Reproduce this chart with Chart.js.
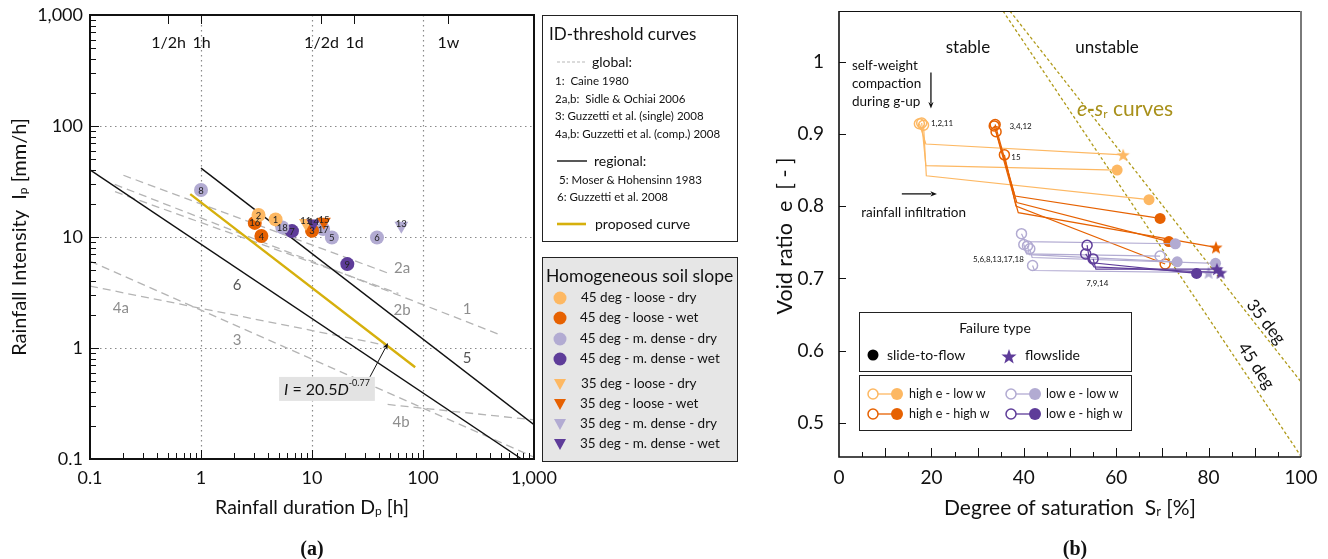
<!DOCTYPE html>
<html>
<head>
<meta charset="utf-8">
<title>Rainfall thresholds and void ratio paths</title>
<script src="https://cdn.jsdelivr.net/npm/chart.js@4.4.1/dist/chart.umd.min.js"></script>
<style>
  html,body{margin:0;padding:0;background:#fff;}
  body{width:1328px;height:559px;position:relative;overflow:hidden;font-family:Lato,"Open Sans",sans-serif;color:#111;}
  canvas{position:absolute;top:0;}
  #chartA{left:0;}
  #chartB{left:760px;}
  .box{position:absolute;box-sizing:border-box;border:1px solid #222;background:#fff;}
  .t{position:absolute;white-space:nowrap;line-height:1;transform:translateY(-50%);}
  svg.sym{position:absolute;left:0;top:0;pointer-events:none;}
  .cap{position:absolute;font-family:"Liberation Serif",serif;font-weight:bold;font-size:20px;transform:translate(-50%,-50%);}
</style>
</head>
<body>
<canvas id="chartA" width="560" height="559"></canvas>
<canvas id="chartB" width="568" height="559"></canvas>

<!-- legend boxes -->
<div class="box" style="left:542px;top:15px;width:196px;height:227px;border-width:1.3px"></div>
<div class="box" style="left:542px;top:257px;width:196px;height:205px;background:#e6e6e6;"></div>
<div class="box" style="left:859px;top:312px;width:273px;height:60px;"></div>
<div class="box" style="left:859px;top:375px;width:273px;height:56px;"></div>

<svg class="sym" width="1328" height="559">
  <!-- ID-threshold legend keys -->
  <line x1="557" y1="62" x2="585" y2="62" stroke="#b8b8b8" stroke-width="1.2" stroke-dasharray="3,2"/>
  <line x1="557" y1="161" x2="587" y2="161" stroke="#111" stroke-width="1.4"/>
  <line x1="557" y1="224" x2="586" y2="224" stroke="#d6b00c" stroke-width="2.6"/>
  <!-- soil slope legend keys -->
  <circle cx="560" cy="298" r="6.5" fill="#fdb863"/>
  <circle cx="560" cy="318" r="6.5" fill="#e66101"/>
  <circle cx="560" cy="339" r="6.5" fill="#b2abd2"/>
  <circle cx="560" cy="359" r="6.5" fill="#5e3c99"/>
  <polygon points="554,379 566,379 560,390" fill="#fdb863"/>
  <polygon points="554,399 566,399 560,410" fill="#e66101"/>
  <polygon points="554,419 566,419 560,430" fill="#b2abd2"/>
  <polygon points="554,439 566,439 560,450" fill="#5e3c99"/>
  <!-- failure type keys -->
  <circle cx="873" cy="355" r="5.5" fill="#000"/>
  <polygon points="1009,349 1010.9,354.4 1016.6,354.5 1012.1,358 1013.7,363.5 1009,360.2 1004.3,363.5 1005.9,358 1001.4,354.5 1007.1,354.4" fill="#5e3c99"/>
  <!-- path keys -->
  <line x1="873" y1="394" x2="897" y2="394" stroke="#fdb863" stroke-width="1.3"/>
  <circle cx="873" cy="394" r="5" fill="#fff" stroke="#fdb863" stroke-width="1.5"/>
  <circle cx="897" cy="394" r="6" fill="#fdb863"/>
  <line x1="873" y1="414" x2="897" y2="414" stroke="#e66101" stroke-width="1.3"/>
  <circle cx="873" cy="414" r="5" fill="#fff" stroke="#e66101" stroke-width="1.5"/>
  <circle cx="897" cy="414" r="6" fill="#e66101"/>
  <line x1="1011" y1="394" x2="1035" y2="394" stroke="#b2abd2" stroke-width="1.3"/>
  <circle cx="1011" cy="394" r="5" fill="#fff" stroke="#b2abd2" stroke-width="1.5"/>
  <circle cx="1035" cy="394" r="6" fill="#b2abd2"/>
  <line x1="1011" y1="414" x2="1035" y2="414" stroke="#5e3c99" stroke-width="1.3"/>
  <circle cx="1011" cy="414" r="5" fill="#fff" stroke="#5e3c99" stroke-width="1.5"/>
  <circle cx="1035" cy="414" r="6" fill="#5e3c99"/>
</svg>

<!-- ID-threshold legend text -->
<div class="t" style="left:549px;top:33px;font-size:17px;">ID-threshold curves</div>
<div class="t" style="left:592px;top:62px;font-size:14px;">global:</div>
<div class="t" style="left:555px;top:81px;font-size:11.5px;">1:&nbsp; Caine 1980</div>
<div class="t" style="left:555px;top:99px;font-size:11.5px;">2a,b:&nbsp; Sidle &amp; Ochiai 2006</div>
<div class="t" style="left:555px;top:116px;font-size:11.5px;">3: Guzzetti et al. (single) 2008</div>
<div class="t" style="left:555px;top:134px;font-size:11.5px;">4a,b: Guzzetti et al. (comp.) 2008</div>
<div class="t" style="left:594px;top:161px;font-size:14px;">regional:</div>
<div class="t" style="left:559px;top:180px;font-size:11.5px;">5: Moser &amp; Hohensinn 1983</div>
<div class="t" style="left:557px;top:197px;font-size:11.5px;">6: Guzzetti et al. 2008</div>
<div class="t" style="left:595px;top:224px;font-size:14px;">proposed curve</div>

<!-- soil slope legend text -->
<div class="t" style="left:546px;top:276px;font-size:17.5px;">Homogeneous soil slope</div>
<div class="t" style="left:581px;top:298px;font-size:13.5px;">45 deg - loose - dry</div>
<div class="t" style="left:580px;top:318px;font-size:13.5px;">45 deg - loose - wet</div>
<div class="t" style="left:580px;top:339px;font-size:13.5px;">45 deg - m. dense - dry</div>
<div class="t" style="left:580px;top:359px;font-size:13.5px;">45 deg - m. dense - wet</div>
<div class="t" style="left:581px;top:384px;font-size:13.5px;">35 deg - loose - dry</div>
<div class="t" style="left:580px;top:404px;font-size:13.5px;">35 deg - loose - wet</div>
<div class="t" style="left:580px;top:424px;font-size:13.5px;">35 deg - m. dense - dry</div>
<div class="t" style="left:580px;top:444px;font-size:13.5px;">35 deg - m. dense - wet</div>

<!-- failure type legend text -->
<div class="t" style="left:995px;top:328px;font-size:14px;transform:translate(-50%,-50%);">Failure type</div>
<div class="t" style="left:887px;top:355px;font-size:14px;">slide-to-flow</div>
<div class="t" style="left:1025px;top:355px;font-size:14px;">flowslide</div>
<div class="t" style="left:909px;top:394px;font-size:12.5px;">high e - low w</div>
<div class="t" style="left:909px;top:414px;font-size:12.5px;">high e - high w</div>
<div class="t" style="left:1046px;top:394px;font-size:12.5px;">low e - low w</div>
<div class="t" style="left:1046px;top:414px;font-size:12.5px;">low e - high w</div>

<div class="cap" style="left:312px;top:548px;">(a)</div>
<div class="cap" style="left:1075px;top:548px;">(b)</div>

<script>
// ---------------- Panel (a): rainfall intensity vs. duration ----------------
// Flume tests: test id, rainfall duration D (h) and intensity I (mm/h)
const ids_45_loose_dry = ['1', '2'];
const D_45_loose_dry   = [4.7, 3.3];
const I_45_loose_dry   = [14.4, 15.8];
const ids_45_loose_wet = ['16', '4', '3'];
const D_45_loose_wet   = [3.05, 3.5, 10.0];
const I_45_loose_wet   = [13.4, 10.2, 11.4];
const ids_45_dense_dry = ['8', '18', '17', '5', '6'];
const D_45_dense_dry   = [1.0, 5.4, 12.6, 15.1, 38.5];
const I_45_dense_dry   = [26.5, 12.2, 11.8, 9.9, 9.9];
const ids_45_dense_wet = ['7', '9'];
const D_45_dense_wet   = [6.6, 20.8];
const I_45_dense_wet   = [11.3, 5.7];
const ids_35_loose_dry = ['11'];
const D_35_loose_dry   = [8.8];
const I_35_loose_dry   = [13.4];
const ids_35_loose_wet = ['15'];
const D_35_loose_wet   = [12.8];
const I_35_loose_wet   = [13.7];
const ids_35_dense_dry = ['13'];
const D_35_dense_dry   = [63.8];
const I_35_dense_dry   = [12.6];
const ids_35_dense_wet = ['14'];
const D_35_dense_wet   = [10.3];
const I_35_dense_wet   = [13.2];

// ID-threshold curves: end points (D in h, I in mm/h)
const caine_D    = [0.167, 500];  const caine_I    = [29.8, 1.31];
const sidleA_D   = [0.2, 52];     const sidleA_I   = [36, 4.6];
const sidleB_D   = [0.168, 60];   const sidleB_I   = [25.6, 3.1];
const guzSingle_D = [0.1, 1000];  const guzSingle_I = [6.06, 0.104];
const guzCompA_D = [0.1, 48];     const guzCompA_I = [3.61, 1.05];
const guzCompB_D = [48, 1000];    const guzCompB_I = [0.31, 0.225];
const moser_D    = [1, 1000];     const moser_I    = [41.7, 0.204];
const guzReg_D   = [0.1, 774];    const guzReg_I   = [40.2, 0.1];
// proposed threshold I = a * D^b over its plotted duration range
const proposedCoef = 20.5, proposedExp = -0.77;
const proposed_D = [0.8, 85];
const proposed_I = proposed_D.map(d => proposedCoef * Math.pow(d, proposedExp));

// axis tick text
const decadeTickText = { '-1': '0.1', '0': '1', '1': '10', '2': '100', '3': '1,000' };
const timeMarks_h = [0.5, 1, 12, 24, 168];
const timeMarkText = ['1/2h', '1h', '1/2d', '1d', '1w'];

// ---------------- Panel (b): void ratio vs. degree of saturation ----------------
// each path: initial state, after self-weight compaction, at failure
const sr_hiE_loW = [[17.4, 18.8, 61.5], [17.9, 18.8, 60.2], [18.3, 18.9, 67.1]];
const e_hiE_loW  = [[0.914, 0.886, 0.871], [0.915, 0.856, 0.850], [0.912, 0.842, 0.809]];
const fail_hiE_loW = ['flowslide', 'slide', 'slide'];
const sr_hiE_hiW = [[33.8, 38.1, 69.5], [34.0, 38.5, 71.4], [33.6, 38.8, 81.6], [35.8, 38.3, 70.6]];
const e_hiE_hiW  = [[0.913, 0.814, 0.783], [0.903, 0.805, 0.751], [0.911, 0.791, 0.743], [0.871, 0.800, 0.720]];
const fail_hiE_hiW = ['slide', 'slide', 'flowslide', 'none'];
const sr_loE_loW = [[39.5, 40.3, 72.8], [40.0, 40.6, 69.5], [40.8, 41.2, 73.2], [41.3, 41.8, 81.5], [41.9, 42.3, 80.0]];
const e_loE_loW  = [[0.762, 0.751, 0.748], [0.747, 0.734, 0.731], [0.745, 0.733, 0.723], [0.741, 0.729, 0.721], [0.718, 0.711, 0.708]];
const fail_loE_loW = ['slide', 'none', 'slide', 'slide', 'flowslide'];
const sr_loE_hiW = [[53.7, 54.3, 77.4], [53.4, 55.2, 82.6], [55.0, 55.6, 81.8]];
const e_loE_hiW  = [[0.746, 0.722, 0.707], [0.734, 0.716, 0.708], [0.727, 0.713, 0.713]];
const fail_loE_hiW = ['slide', 'flowslide', 'flowslide'];

// e–Sr instability curves
const esr35_S = [37.0, 100]; const esr35_e = [1.07, 0.557];
const esr45_S = [35.5, 100]; const esr45_e = [1.07, 0.454];

// ---------------- styling ----------------
const FONT = 'Lato, "Open Sans", sans-serif';
const C_LO = '#fdb863', C_O = '#e66101', C_LP = '#b2abd2', C_DP = '#5e3c99';
const C_GOLD = '#d6b00c', C_OLIVE = '#b09a1a', C_GREY = '#b4b4b4';

Chart.defaults.font.family = FONT;
Chart.defaults.color = '#111';

const xy = (xs, ys) => xs.map((v, i) => ({ x: v, y: ys[i] }));

function richText(ctx, parts, x, y, align) {
  ctx.textAlign = 'left';
  let w = 0;
  for (const p of parts) { ctx.font = (p.it ? 'italic ' : '') + (p.b ? 'bold ' : '') + p.s + 'px ' + FONT; p.w = ctx.measureText(p.t).width; w += p.w; }
  let cx = align === 'center' ? x - w / 2 : align === 'right' ? x - w : x;
  for (const p of parts) {
    ctx.font = (p.it ? 'italic ' : '') + (p.b ? 'bold ' : '') + p.s + 'px ' + FONT;
    ctx.fillText(p.t, cx, y + (p.dy || 0));
    cx += p.w;
  }
  return w;
}

function arrow(ctx, x1, y1, x2, y2, head) {
  const a = Math.atan2(y2 - y1, x2 - x1);
  ctx.beginPath(); ctx.moveTo(x1, y1);
  ctx.lineTo(x2 - Math.cos(a) * head * 0.8, y2 - Math.sin(a) * head * 0.8); ctx.stroke();
  ctx.beginPath();
  ctx.moveTo(x2, y2);
  ctx.lineTo(x2 - head * Math.cos(a - 0.38), y2 - head * Math.sin(a - 0.38));
  ctx.lineTo(x2 - head * 0.7 * Math.cos(a), y2 - head * 0.7 * Math.sin(a));
  ctx.lineTo(x2 - head * Math.cos(a + 0.38), y2 - head * Math.sin(a + 0.38));
  ctx.closePath(); ctx.fill();
}

// keep the plot area where the layout padding puts it
function fixedSize(prop, size) {
  return function (s) {
    s[prop] = size;
    s.paddingTop = 0; s.paddingBottom = 0; s.paddingLeft = 0; s.paddingRight = 0;
  };
}

// ---------------- chart (a) ----------------
function markerSet(ids, D, I, color, tri) {
  return {
    data: xy(D, I), ids: ids, tri: tri, showLine: false,
    pointStyle: tri ? 'triangle' : 'circle', pointRotation: tri ? 180 : 0,
    pointRadius: tri ? 8 : 7, pointBackgroundColor: color, pointBorderWidth: 0,
    order: tri ? 0 : 1
  };
}
function curveSet(D, I, color, width, dash) {
  return { data: xy(D, I), showLine: true, borderColor: color, borderWidth: width,
           borderDash: dash || [], pointRadius: 0, order: 5 };
}

// placement of curve tags and notes (data coordinates)
const layoutA = {
  tags: [
    { t: '1',  D: 249,  I: 2.25,  c: '#8e8e8e' },
    { t: '2a', D: 64.7, I: 5.26,  c: '#8e8e8e' },
    { t: '2b', D: 64.7, I: 2.2,   c: '#8e8e8e' },
    { t: '3',  D: 2.11, I: 1.18,  c: '#8e8e8e' },
    { t: '4a', D: 0.19, I: 2.29,  c: '#8e8e8e' },
    { t: '4b', D: 63.4, I: 0.215, c: '#8e8e8e' },
    { t: '5',  D: 249,  I: 0.813, c: '#555' },
    { t: '6',  D: 2.11, I: 3.7,   c: '#555' }
  ],
  box: { D: 5.05, I: 0.428 },
  arrowFrom: { D: 33.3, I: 0.55 },
  arrowTo: { D: 48.4, I: 1.11 }
};

const panelA = {
  id: 'panelA',
  beforeDatasetsDraw(chart) {
    const { ctx, chartArea: a, scales: { x, y } } = chart;
    ctx.save();
    ctx.strokeStyle = '#8a8a8a'; ctx.lineWidth = 1.2; ctx.setLineDash([1.5, 3.5]);
    for (const v of [1, 10, 100]) {
      const px = Math.round(x.getPixelForValue(v)) + 0.5;
      ctx.beginPath(); ctx.moveTo(px, a.top); ctx.lineTo(px, a.bottom); ctx.stroke();
      const py = Math.round(y.getPixelForValue(v)) + 0.5;
      ctx.beginPath(); ctx.moveTo(a.left, py); ctx.lineTo(a.right, py); ctx.stroke();
    }
    ctx.restore();
  },
  afterDatasetsDraw(chart) {
    const { ctx, scales: { x, y } } = chart;
    ctx.save();
    ctx.textAlign = 'center'; ctx.textBaseline = 'middle';
    // test ids on markers
    chart.data.datasets.forEach((ds, i) => {
      if (!ds.ids) return;
      const meta = chart.getDatasetMeta(i);
      ctx.font = '9.5px ' + FONT; ctx.fillStyle = '#222';
      meta.data.forEach((el, j) => ctx.fillText(ds.ids[j], el.x, el.y + (ds.tri ? -1.5 : 0.5)));
    });
    // curve tags
    ctx.font = '15px ' + FONT;
    for (const g of layoutA.tags) {
      ctx.fillStyle = g.c;
      ctx.fillText(g.t, x.getPixelForValue(g.D), y.getPixelForValue(g.I));
    }
    // formula box and pointer
    const bx = x.getPixelForValue(layoutA.box.D), by = y.getPixelForValue(layoutA.box.I);
    const parts = [
      { t: 'I', it: true, s: 16 }, { t: ' = ' + proposedCoef, s: 16 },
      { t: 'D', it: true, s: 16 }, { t: String(proposedExp), s: 9, dy: -7 }
    ];
    let w = 0;
    for (const p of parts) { ctx.font = (p.it ? 'italic ' : '') + p.s + 'px ' + FONT; w += ctx.measureText(p.t).width; }
    ctx.fillStyle = '#e3e3e3';
    ctx.fillRect(bx, by - 12, w + 10, 24);
    ctx.fillStyle = '#111';
    richText(ctx, parts, bx + 5, by + 1, 'left');
    ctx.strokeStyle = '#111'; ctx.fillStyle = '#111'; ctx.lineWidth = 1;
    arrow(ctx, x.getPixelForValue(layoutA.arrowFrom.D), y.getPixelForValue(layoutA.arrowFrom.I),
          x.getPixelForValue(layoutA.arrowTo.D), y.getPixelForValue(layoutA.arrowTo.I), 7);
    ctx.restore();
  },
  afterDraw(chart) {
    const { ctx, chartArea: a, scales: { x, y } } = chart;
    ctx.save();
    ctx.strokeStyle = '#111';
    // minor log ticks, inside
    ctx.lineWidth = 1;
    for (const dec of [0.1, 1, 10, 100]) {
      for (let m = 1; m <= 9; m++) {
        const v = dec * m;
        const len = m === 1 ? 9 : 6;
        const px = Math.round(x.getPixelForValue(v)) + 0.5;
        ctx.beginPath(); ctx.moveTo(px, a.bottom); ctx.lineTo(px, a.bottom - len); ctx.stroke();
        const py = Math.round(y.getPixelForValue(v)) + 0.5;
        ctx.beginPath(); ctx.moveTo(a.left, py); ctx.lineTo(a.left + len, py); ctx.stroke();
      }
    }
    // time marks along the top
    ctx.fillStyle = '#111'; ctx.textAlign = 'center'; ctx.textBaseline = 'middle';
    ctx.font = '16px ' + FONT;
    timeMarks_h.forEach((h, i) => {
      const px = Math.round(x.getPixelForValue(h)) + 0.5;
      ctx.beginPath(); ctx.moveTo(px, a.top); ctx.lineTo(px, a.top + 9); ctx.stroke();
      ctx.fillText(timeMarkText[i], px, a.top + 28);
    });
    // frame
    ctx.lineWidth = 2;
    ctx.strokeRect(a.left, a.top, a.right - a.left, a.bottom - a.top);
    // axis titles
    richText(ctx, [{ t: 'Rainfall duration D', s: 19.5 }, { t: 'p', s: 12, dy: 3 }, { t: ' [h]', s: 19.5 }],
             (a.left + a.right) / 2, 508, 'center');
    ctx.translate(20, (a.top + a.bottom) / 2);
    ctx.rotate(-Math.PI / 2);
    richText(ctx, [{ t: 'Rainfall Intensity  I', s: 20 }, { t: 'p', s: 12, dy: 3 }, { t: ' [mm/h]', s: 20 }], 0, 0, 'center');
    ctx.restore();
  }
};

const logTicks = {
  autoSkip: false, maxRotation: 0, font: { size: 18 }, color: '#111',
  callback(v) {
    const l = Math.log10(v), r = Math.round(l);
    return Math.abs(l - r) < 1e-6 ? decadeTickText[String(r)] : '';
  }
};

new Chart(document.getElementById('chartA'), {
  type: 'scatter',
  data: {
    datasets: [
      markerSet(ids_45_loose_dry, D_45_loose_dry, I_45_loose_dry, C_LO, false),
      markerSet(ids_45_loose_wet, D_45_loose_wet, I_45_loose_wet, C_O, false),
      markerSet(ids_45_dense_dry, D_45_dense_dry, I_45_dense_dry, C_LP, false),
      markerSet(ids_45_dense_wet, D_45_dense_wet, I_45_dense_wet, C_DP, false),
      markerSet(ids_35_loose_wet, D_35_loose_wet, I_35_loose_wet, C_O, true),
      markerSet(ids_35_dense_wet, D_35_dense_wet, I_35_dense_wet, C_DP, true),
      markerSet(ids_35_loose_dry, D_35_loose_dry, I_35_loose_dry, C_LO, true),
      markerSet(ids_35_dense_dry, D_35_dense_dry, I_35_dense_dry, C_LP, true),
      curveSet(proposed_D, proposed_I, C_GOLD, 2.4),
      curveSet(moser_D, moser_I, '#111', 1.4),
      curveSet(guzReg_D, guzReg_I, '#111', 1.4),
      curveSet(caine_D, caine_I, C_GREY, 1.3, [8, 5]),
      curveSet(sidleA_D, sidleA_I, C_GREY, 1.3, [8, 5]),
      curveSet(sidleB_D, sidleB_I, C_GREY, 1.3, [8, 5]),
      curveSet(guzSingle_D, guzSingle_I, C_GREY, 1.3, [8, 5]),
      curveSet(guzCompA_D, guzCompA_I, C_GREY, 1.3, [8, 5]),
      curveSet(guzCompB_D, guzCompB_I, C_GREY, 1.3, [8, 5])
    ]
  },
  options: {
    responsive: false, animation: false, events: [],
    layout: { padding: { top: 15, right: 26, left: 0, bottom: 0 } },
    plugins: { legend: { display: false }, tooltip: { enabled: false } },
    scales: {
      x: {
        type: 'logarithmic', min: 0.1, max: 1000,
        grid: { display: false, drawTicks: false }, border: { display: false },
        ticks: Object.assign({ padding: 8 }, logTicks),
        afterFit: fixedSize('height', 100)
      },
      y: {
        type: 'logarithmic', min: 0.1, max: 1000,
        grid: { display: false, drawTicks: false }, border: { display: false },
        ticks: Object.assign({ padding: 7 }, logTicks),
        afterFit: fixedSize('width', 90)
      }
    }
  },
  plugins: [panelA]
});

// ---------------- chart (b) ----------------
const starCache = {};
function starPoint(color, r) {
  const key = color + r;
  if (starCache[key]) return starCache[key];
  const s = Math.ceil(2 * r + 2);
  const c = document.createElement('canvas');
  c.width = s; c.height = s;
  const g = c.getContext('2d');
  g.beginPath();
  for (let i = 0; i < 10; i++) {
    const rr = i % 2 ? r * 0.42 : r;
    const a = -Math.PI / 2 + i * Math.PI / 5;
    g.lineTo(s / 2 + rr * Math.cos(a), s / 2 + rr * Math.sin(a) + r * 0.1);
  }
  g.closePath(); g.fillStyle = color; g.fill();
  return (starCache[key] = c);
}

function pathSets(srs, es, fails, color) {
  return srs.map((sr, k) => {
    const end = fails[k];
    return {
      data: xy(sr, es[k]), showLine: true, borderColor: color, borderWidth: 1.2,
      pointStyle: ['circle', 'circle', end === 'flowslide' ? starPoint(color, 7) : 'circle'],
      pointRadius: [5, 0, end === 'slide' ? 5.5 : 5],
      pointBackgroundColor: ['rgba(255,255,255,0)', 'rgba(0,0,0,0)', end === 'none' ? 'rgba(255,255,255,0)' : color],
      pointBorderColor: color,
      pointBorderWidth: [1.5, 0, end === 'none' ? 1.5 : 0],
      order: 2
    };
  });
}

const layoutB = {
  notes: [
    { t: 'stable', S: 27.9, e: 1.019, s: 17, align: 'center' },
    { t: 'unstable', S: 58.0, e: 1.019, s: 17, align: 'center' },
    { t: 'self-weight', S: 2.8, e: 0.9945, s: 13.5, align: 'left' },
    { t: 'compaction', S: 2.8, e: 0.9695, s: 13.5, align: 'left' },
    { t: 'during g-up', S: 2.8, e: 0.9446, s: 13.5, align: 'left' },
    { t: 'rainfall infiltration', S: 4.8, e: 0.791, s: 13.5, align: 'left' },
    { t: '1,2,11', S: 19.9, e: 0.914, s: 8, align: 'left' },
    { t: '3,4,12', S: 36.9, e: 0.911, s: 8, align: 'left' },
    { t: '15', S: 37.3, e: 0.868, s: 8, align: 'left' },
    { t: '5,6,8,13,17,18', S: 29.0, e: 0.727, s: 8, align: 'left' },
    { t: '7,9,14', S: 53.5, e: 0.693, s: 8, align: 'left' }
  ],
  downArrow: { S: 19.9, e0: 0.985, e1: 0.935 },
  rightArrow: { e: 0.817, S0: 13.6, S1: 21.2 },
  curvesTitle: { S: 51.5, e: 0.934 },
  tag35: { S: 92.4, e: 0.640 },
  tag45: { S: 90.3, e: 0.579 }
};

const panelB = {
  id: 'panelB',
  afterDatasetsDraw(chart) {
    const { ctx, scales: { x, y } } = chart;
    ctx.save();
    ctx.fillStyle = '#111'; ctx.textBaseline = 'middle';
    for (const n of layoutB.notes) {
      ctx.font = n.s + 'px ' + FONT; ctx.textAlign = n.align;
      ctx.fillText(n.t, x.getPixelForValue(n.S), y.getPixelForValue(n.e));
    }
    ctx.strokeStyle = '#111'; ctx.lineWidth = 1.3;
    const da = layoutB.downArrow, ra = layoutB.rightArrow;
    arrow(ctx, x.getPixelForValue(da.S), y.getPixelForValue(da.e0), x.getPixelForValue(da.S), y.getPixelForValue(da.e1), 7);
    arrow(ctx, x.getPixelForValue(ra.S0), y.getPixelForValue(ra.e), x.getPixelForValue(ra.S1), y.getPixelForValue(ra.e), 7);
    // curve title
    ctx.fillStyle = '#a8901a';
    richText(ctx, [{ t: 'e', it: true, s: 21 }, { t: '-', b: true, s: 21 }, { t: 's', it: true, s: 21 },
                   { t: 'r', s: 12, dy: 5 }, { t: ' curves', s: 21 }],
             x.getPixelForValue(layoutB.curvesTitle.S), y.getPixelForValue(layoutB.curvesTitle.e), 'left');
    // slope tags aligned with their curves
    ctx.fillStyle = '#111'; ctx.font = '17px ' + FONT; ctx.textAlign = 'center';
    const tagAlong = (S, e, tag) => {
      const ang = Math.atan2(y.getPixelForValue(e[1]) - y.getPixelForValue(e[0]), x.getPixelForValue(S[1]) - x.getPixelForValue(S[0]));
      ctx.save();
      ctx.translate(x.getPixelForValue(tag.S), y.getPixelForValue(tag.e));
      ctx.rotate(ang);
      ctx.fillText(tag.t, 0, 0);
      ctx.restore();
    };
    tagAlong(esr35_S, esr35_e, Object.assign({ t: '35 deg' }, layoutB.tag35));
    tagAlong(esr45_S, esr45_e, Object.assign({ t: '45 deg' }, layoutB.tag45));
    ctx.restore();
  },
  afterDraw(chart) {
    const { ctx, chartArea: a, scales: { x, y } } = chart;
    ctx.save();
    ctx.strokeStyle = '#111'; ctx.lineWidth = 1;
    for (let v = 0.5; v <= 1.0001; v += 0.1) {
      const py = Math.round(y.getPixelForValue(v)) + 0.5;
      ctx.beginPath(); ctx.moveTo(a.left, py); ctx.lineTo(a.left + 7, py); ctx.stroke();
    }
    for (let v = 5; v < 100; v += 5) {
      const px = Math.round(x.getPixelForValue(v)) + 0.5;
      const len = v % 10 === 0 ? 9 : 5;
      ctx.beginPath(); ctx.moveTo(px, a.bottom); ctx.lineTo(px, a.bottom - len); ctx.stroke();
    }
    // frame
    ctx.lineWidth = 1.2;
    ctx.beginPath(); ctx.moveTo(a.left, a.top + 0.5); ctx.lineTo(a.right, a.top + 0.5); ctx.stroke();
    ctx.strokeStyle = '#7a7a7a'; ctx.lineWidth = 2;
    ctx.beginPath(); ctx.moveTo(a.right, a.top); ctx.lineTo(a.right, a.bottom); ctx.stroke();
    ctx.strokeStyle = '#111'; ctx.lineWidth = 1.6;
    ctx.beginPath(); ctx.moveTo(a.left, a.top); ctx.lineTo(a.left, a.bottom); ctx.lineTo(a.right, a.bottom); ctx.stroke();
    // titles
    ctx.fillStyle = '#111'; ctx.textBaseline = 'middle';
    richText(ctx, [{ t: 'Degree of saturation  S', s: 21 }, { t: 'r', s: 13, dy: 4 }, { t: ' [%]', s: 21 }],
             (a.left + a.right) / 2, 508, 'center');
    ctx.translate(25, (a.top + a.bottom) / 2 + 2);
    ctx.rotate(-Math.PI / 2);
    richText(ctx, [{ t: 'Void ratio  e  [ - ]', s: 21.5 }], 0, 0, 'center');
    ctx.restore();
  }
};

new Chart(document.getElementById('chartB'), {
  type: 'scatter',
  data: {
    datasets: [
      ...pathSets(sr_loE_hiW, e_loE_hiW, fail_loE_hiW, C_DP),
      ...pathSets(sr_loE_loW, e_loE_loW, fail_loE_loW, C_LP),
      ...pathSets(sr_hiE_hiW, e_hiE_hiW, fail_hiE_hiW, C_O),
      ...pathSets(sr_hiE_loW, e_hiE_loW, fail_hiE_loW, C_LO),
      { data: xy(esr35_S, esr35_e), showLine: true, borderColor: C_OLIVE, borderWidth: 1.3, borderDash: [3, 2.5], pointRadius: 0, order: 6 },
      { data: xy(esr45_S, esr45_e), showLine: true, borderColor: C_OLIVE, borderWidth: 1.3, borderDash: [3, 2.5], pointRadius: 0, order: 6 }
    ]
  },
  options: {
    responsive: false, animation: false, events: [],
    layout: { padding: { top: 11, right: 27, left: 0, bottom: 0 } },
    plugins: { legend: { display: false }, tooltip: { enabled: false } },
    scales: {
      x: {
        type: 'linear', min: 0, max: 100,
        grid: { display: false, drawTicks: false }, border: { display: false },
        ticks: { stepSize: 20, padding: 9, font: { size: 19 }, color: '#111', maxRotation: 0 },
        afterFit: fixedSize('height', 102)
      },
      y: {
        type: 'linear', min: 0.453, max: 1.07,
        grid: { display: false, drawTicks: false }, border: { display: false },
        ticks: { stepSize: 0.1, includeBounds: false, padding: 15, font: { size: 19 }, color: '#111',
                 callback: v => (Math.abs(v - 1) < 1e-6 ? '1' : v.toFixed(1)) },
        afterFit: fixedSize('width', 79)
      }
    }
  },
  plugins: [panelB]
});
</script>
</body>
</html>
